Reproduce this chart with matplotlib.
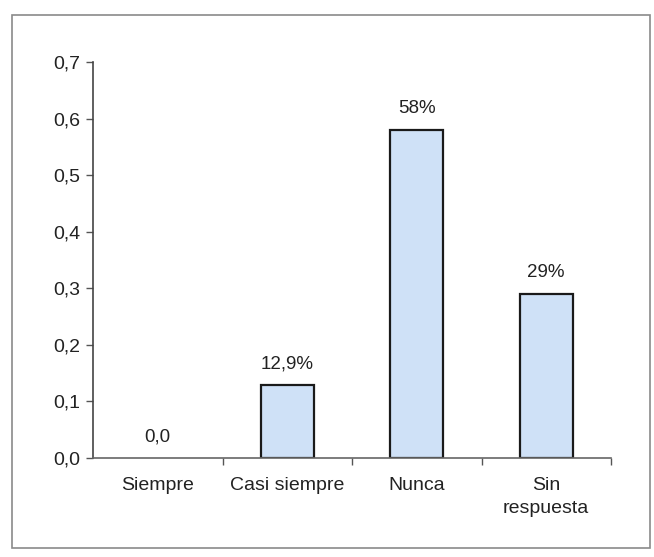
import matplotlib.pyplot as plt
from matplotlib.patches import Rectangle

plt.rcParams['font.family'] = ['Liberation Sans', 'DejaVu Sans']

# Data
categories = ['Siempre', 'Casi siempre', 'Nunca', 'Sin\nrespuesta']
values = [0.0, 0.129, 0.58, 0.29]
value_labels = ['0,0', '12,9%', '58%', '29%']
y_ticks = [0.0, 0.1, 0.2, 0.3, 0.4, 0.5, 0.6, 0.7]

W, H = 654, 557
fig = plt.figure(figsize=(W / 100, H / 100), dpi=100)

# outer frame of the chart area
fig.patches.append(Rectangle((12 / W, 1 - 548 / H), (650 - 12) / W, (548 - 15) / H,
                             transform=fig.transFigure, fill=False,
                             edgecolor='#8a8a8a', linewidth=1.2))

ax = fig.add_axes([93 / W, 1 - 458 / H, (611 - 93) / W, (458 - 62) / H])

x = list(range(len(categories)))
bars = ax.bar(x, values, width=0.41, color='#cfe1f7', edgecolor='#1a1a1a',
              linewidth=1.6, zorder=2)
for b, v in zip(bars, values):
    if v == 0:
        b.set_linewidth(0)

for xi, v, lab in zip(x, values, value_labels):
    ax.text(xi, v + 0.022, lab, ha='center', va='bottom', fontsize=13.5, color='#222222')

ax.set_xlim(-0.5, len(categories) - 0.5)
ax.set_ylim(0, 0.7)
ax.set_yticks(y_ticks)
ax.set_yticklabels([f'{t:.1f}'.replace('.', ',') for t in y_ticks], fontsize=14, color='#222222')

# category labels centered, tick marks between categories
ax.set_xticks(x)
ax.set_xticklabels(categories, fontsize=14, color='#222222', linespacing=1.45)
ax.tick_params(axis='x', length=0, pad=14)
ax.set_xticks([i + 0.5 for i in x], minor=True)
ax.tick_params(axis='x', which='minor', length=5, width=1, color='#555555', direction='out')
ax.tick_params(axis='y', length=5, width=1, color='#555555', direction='out', pad=4)

for s in ['top', 'right']:
    ax.spines[s].set_visible(False)
ax.spines['left'].set_color('#444444')
ax.spines['bottom'].set_color('#666666')
ax.spines['left'].set_linewidth(1.2)
ax.spines['bottom'].set_linewidth(1.2)

fig.savefig('out.png', dpi=100)
